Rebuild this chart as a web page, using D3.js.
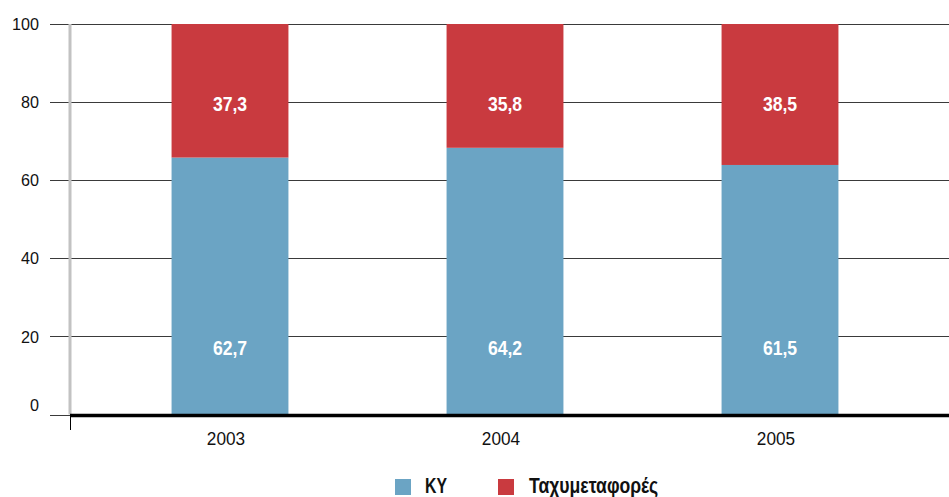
<!DOCTYPE html>
<html>
<head>
<meta charset="utf-8">
<script src="https://cdn.jsdelivr.net/npm/d3@7/dist/d3.min.js"></script>
<style>
  body { margin: 0; background: #fff; }
  svg { display: block; }
  text { font-family: "Liberation Sans", Arial, sans-serif; }
</style>
</head>
<body>
<svg id="chart" width="949" height="497"></svg>
<script>
// data
const years = ["2003", "2004", "2005"];
const kyLabels = ["62,7", "64,2", "61,5"];
const taxyLabels = ["37,3", "35,8", "38,5"];
// segment heights as they are drawn in the picture (percent)
const kyDrawn = [65.8, 68.3, 63.9];
const taxyDrawn = [34.2, 31.7, 36.1];
const yTicks = [0, 20, 40, 60, 80, 100];
const seriesNames = ["ΚΥ", "Ταχυμεταφορές"];
const seriesColors = ["#6ba4c4", "#c93a3f"];

let svg = d3.select("#chart");

let x = d3.scaleBand()
  .domain(years)
  .range([92.5, 917.5])
  .paddingInner(0.575)
  .paddingOuter(0.2875);

let y = d3.scaleLinear()
  .domain([0, 100])
  .range([414.5, 24]);

// condensed look: squeeze text horizontally
function squeeze(px, py, s) {
  return `translate(${px},${py}) scale(${s},1)`;
}

// gridlines
svg.append("g")
  .selectAll("line")
  .data(yTicks)
  .enter()
  .append("line")
  .attr("x1", 50)
  .attr("x2", 949)
  .attr("y1", d => Math.round(y(d)) + 0.5)
  .attr("y2", d => Math.round(y(d)) + 0.5)
  .attr("stroke", "#3a3a3a")
  .attr("stroke-width", 1.2);

// y tick labels
svg.append("g")
  .selectAll("text")
  .data(yTicks)
  .enter()
  .append("text")
  .attr("transform", d => squeeze(39, y(d), 0.95))
  .attr("dy", d => d === 0 ? "-0.2em" : "0.36em")
  .attr("text-anchor", "end")
  .attr("font-size", 17)
  .attr("fill", "#111")
  .text(d => d);

// grey vertical axis
svg.append("line")
  .attr("x1", 70).attr("x2", 70)
  .attr("y1", y(100)).attr("y2", y(0))
  .attr("stroke", "#c2c2c2")
  .attr("stroke-width", 3);

// stacked bars
let stack = years.map((yr, i) => ({ year: yr, ky: kyDrawn[i], taxy: taxyDrawn[i] }));

let bars = svg.append("g");
bars.selectAll(".ky")
  .data(stack)
  .enter()
  .append("rect")
  .attr("class", "ky")
  .attr("x", d => x(d.year))
  .attr("width", x.bandwidth())
  .attr("y", d => y(d.ky))
  .attr("height", d => y(0) - y(d.ky))
  .attr("fill", seriesColors[0]);

bars.selectAll(".taxy")
  .data(stack)
  .enter()
  .append("rect")
  .attr("class", "taxy")
  .attr("x", d => x(d.year))
  .attr("width", x.bandwidth())
  .attr("y", d => y(d.ky + d.taxy))
  .attr("height", d => y(d.ky) - y(d.ky + d.taxy))
  .attr("fill", seriesColors[1]);

// value labels
bars.selectAll(".lblTaxy")
  .data(years)
  .enter()
  .append("text")
  .attr("transform", d => squeeze(x(d) + x.bandwidth() / 2, y(79.6), 0.88))
  .attr("dy", "0.36em")
  .attr("text-anchor", "middle")
  .attr("font-size", 20)
  .attr("font-weight", "bold")
  .attr("fill", "#fff")
  .text((d, i) => taxyLabels[i]);

bars.selectAll(".lblKy")
  .data(years)
  .enter()
  .append("text")
  .attr("transform", d => squeeze(x(d) + x.bandwidth() / 2, y(17), 0.88))
  .attr("dy", "0.36em")
  .attr("text-anchor", "middle")
  .attr("font-size", 20)
  .attr("font-weight", "bold")
  .attr("fill", "#fff")
  .text((d, i) => kyLabels[i]);

// baseline
svg.append("line")
  .attr("x1", 70).attr("x2", 949)
  .attr("y1", 415.5).attr("y2", 415.5)
  .attr("stroke", "#000")
  .attr("stroke-width", 3.5);

svg.append("line")
  .attr("x1", 70.5).attr("x2", 70.5)
  .attr("y1", 417).attr("y2", 430)
  .attr("stroke", "#000")
  .attr("stroke-width", 1);

// x axis labels
let xAxis = d3.axisBottom(x).tickSize(0).tickPadding(0);
let gx = svg.append("g")
  .attr("transform", "translate(0,445)")
  .call(xAxis);
gx.select(".domain").remove();
gx.selectAll(".tick")
  .attr("transform", d => `translate(${x(d) + x.bandwidth() / 2 - 4},0)`);
gx.selectAll("text")
  .attr("font-family", "Liberation Sans, Arial, sans-serif")
  .attr("font-size", 18.5)
  .attr("fill", "#111")
  .attr("y", 0)
  .attr("dy", 0)
  .attr("transform", "scale(0.93,1)");

// legend
let legendX = [395, 498];
let legend = svg.append("g")
  .selectAll("g")
  .data(seriesNames)
  .enter()
  .append("g")
  .attr("transform", (d, i) => `translate(${legendX[i]},479)`);

legend.append("rect")
  .attr("width", 16)
  .attr("height", 16)
  .attr("fill", (d, i) => seriesColors[i]);

legend.append("text")
  .attr("transform", (d, i) => squeeze(i === 0 ? 30 : 31, 14, i === 0 ? 0.72 : 0.8))
  .attr("font-size", 22)
  .attr("font-weight", "bold")
  .attr("fill", "#111")
  .text(d => d);
</script>
</body>
</html>
